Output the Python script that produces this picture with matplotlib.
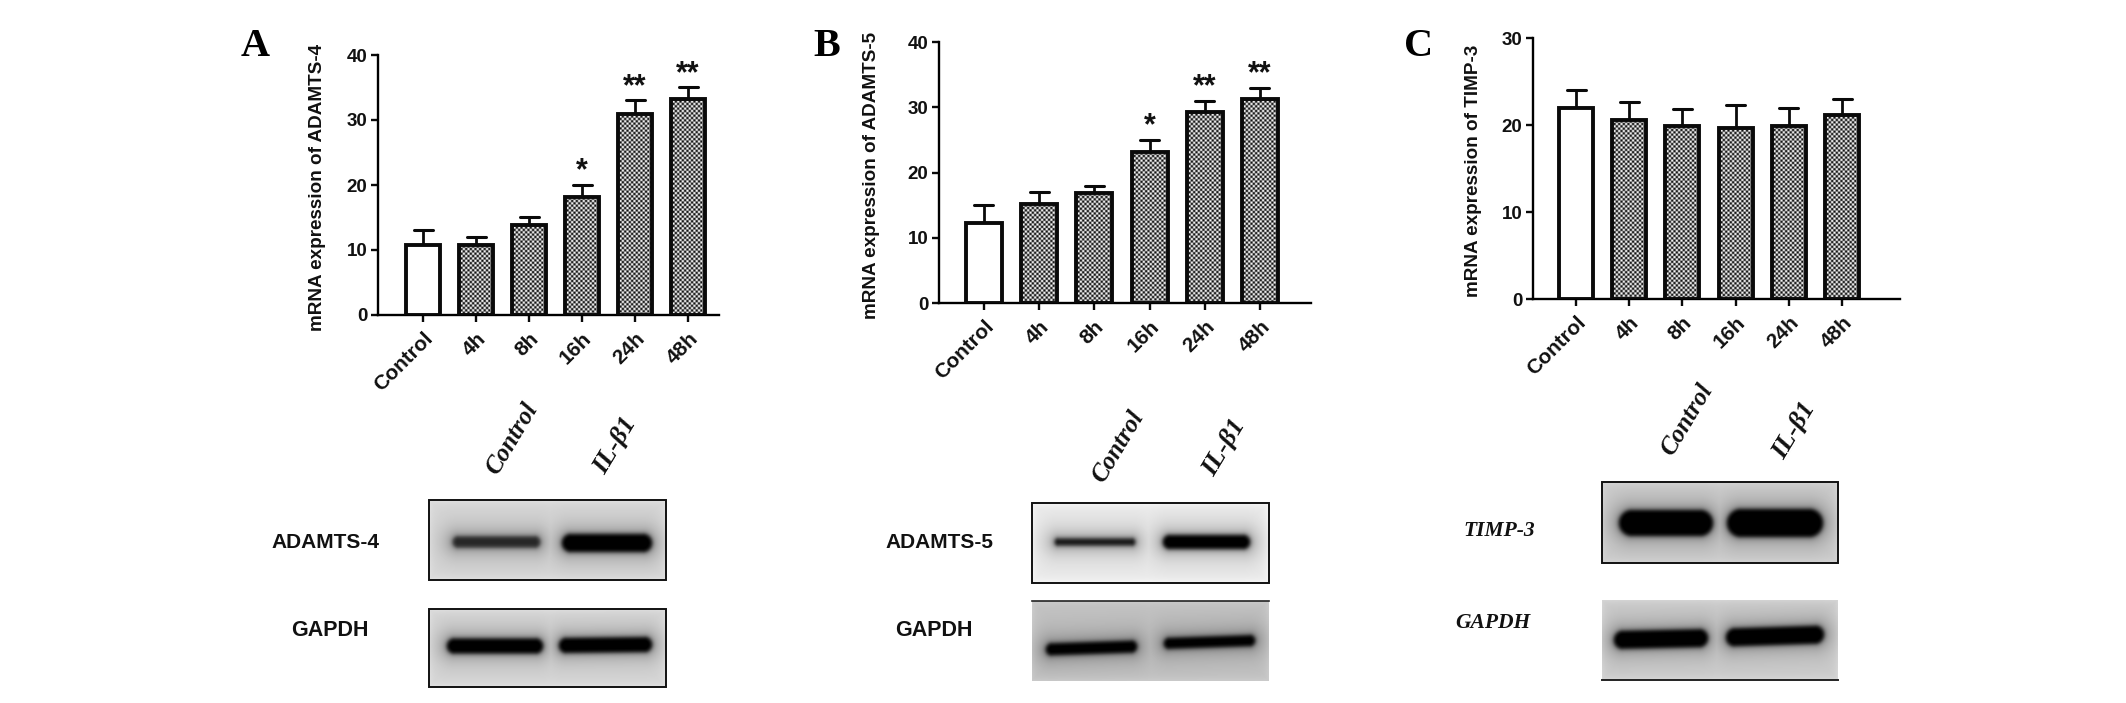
import numpy as np
import matplotlib
matplotlib.use("Agg")
import matplotlib.pyplot as plt
from matplotlib.patches import Rectangle
from matplotlib.transforms import ScaledTranslation

W, H = 2126, 703
DPI = 100
plt.rcParams['font.family'] = ['Liberation Sans', 'DejaVu Sans']

categories = ['Control', '4h', '8h', '16h', '24h', '48h']

adamts4_values = [10.8, 10.8, 13.8, 18.2, 30.9, 33.2]
adamts4_tops = [13.0, 12.0, 15.0, 20.0, 33.0, 35.0]
adamts4_stars = ['', '', '', '*', '**', '**']

adamts5_values = [12.2, 15.2, 16.9, 23.2, 29.2, 31.2]
adamts5_tops = [15.0, 17.0, 18.0, 25.0, 31.0, 33.0]
adamts5_stars = ['', '', '', '*', '**', '**']

timp3_values = [21.9, 20.6, 19.9, 19.6, 19.9, 21.1]
timp3_tops = [24.0, 22.6, 21.8, 22.3, 22.0, 23.0]
timp3_stars = ['', '', '', '', '', '']

fig = plt.figure(figsize=(W / DPI, H / DPI), dpi=DPI, facecolor='white')


def axes_px(x0, y0, x1, y1, **kw):
    return fig.add_axes([x0 / W, 1 - y1 / H, (x1 - x0) / W, (y1 - y0) / H], **kw)


over = axes_px(0, 0, W, H, zorder=10)
over.set_axis_off()
over.patch.set_alpha(0)
over.set_xlim(0, W)
over.set_ylim(H, 0)


def checker(width_px, height_px, cell=2.35):
    """Fine two-tone screen used as the bar fill."""
    ny, nx = max(int(height_px * 2), 2), max(int(width_px * 2), 2)
    xx, yy = np.meshgrid(np.linspace(0, width_px, nx), np.linspace(0, height_px, ny))
    v = np.cos(np.pi * xx / cell) * np.cos(np.pi * yy / cell)
    return np.clip(0.5 + 1.0 * v, 0.05, 1.0)


def bar_panel(spine_x, y_top, y_zero, right, first, step, bar_w, ymax, yticks,
              values, tops, stars, ylabel, label_x, label_y):
    ax = axes_px(spine_x, y_top, right, y_zero)
    ax.patch.set_alpha(0)
    xpos = [first + i * step for i in range(len(categories))]
    px_per_unit = (y_zero - y_top) / ymax
    for i, (x, v, e) in enumerate(zip(xpos, values, tops)):
        ax.plot([x, x], [v, e], color='#0a0a0a', lw=2.0, solid_capstyle='butt', zorder=2)
        ax.plot([x - 9.5, x + 9.5], [e, e], color='#0a0a0a', lw=2.2, solid_capstyle='round', zorder=2)
        if i == 0:
            ax.bar(x, v, bar_w, facecolor='white', edgecolor='#0a0a0a', lw=2.8, zorder=3)
        else:
            ax.imshow(checker(bar_w, v * px_per_unit), cmap='gray', vmin=0, vmax=1, aspect='auto',
                      extent=(x - bar_w / 2, x + bar_w / 2, 0, v), zorder=3,
                      interpolation='bilinear')
            ax.bar(x, v, bar_w, facecolor='none', edgecolor='#0a0a0a', lw=2.8, zorder=4)
        if stars[i]:
            ax.annotate(stars[i], (x, e), xytext=(0, 4), textcoords='offset points',
                        ha='center', va='baseline', fontsize=22, fontweight='bold',
                        color='#111111', zorder=5)
    ax.set_xlim(spine_x, right)
    ax.set_ylim(0, ymax)
    for s in ('top', 'right'):
        ax.spines[s].set_visible(False)
    for s in ('left', 'bottom'):
        ax.spines[s].set_linewidth(1.7)
    ax.set_xticks(xpos)
    ax.set_xticklabels(categories, rotation=45, ha='right', rotation_mode='anchor',
                       fontsize=15, fontweight='bold', color='#111111')
    shift = ScaledTranslation(-2.5 / DPI, 0, fig.dpi_scale_trans)
    for lab in ax.get_xticklabels():
        lab.set_transform(lab.get_transform() + shift)
    ax.set_yticks(yticks)
    ax.set_yticklabels([str(t) for t in yticks], fontsize=13.5, fontweight='bold', color='#111111')
    ax.tick_params(axis='both', width=1.7, length=5, pad=2.5, color='#0a0a0a')
    ax.tick_params(axis='x', pad=5)
    fig.text(label_x / W, 1 - label_y / H, ylabel, rotation=90, ha='center',
             va='center', fontsize=13.6, fontweight='bold', color='#111111')


bar_panel(378, 55, 315, 719, 423, 53, 34, 40, [0, 10, 20, 30, 40],
          adamts4_values, adamts4_tops, adamts4_stars, 'mRNA expression of ADAMTS-4', 317, 187)
bar_panel(939, 42, 303, 1311, 984, 55.2, 36, 40, [0, 10, 20, 30, 40],
          adamts5_values, adamts5_tops, adamts5_stars, 'mRNA expression of ADAMTS-5', 872, 175)
bar_panel(1533, 38, 299, 1900, 1576, 53.2, 34, 30, [0, 10, 20, 30],
          timp3_values, timp3_tops, timp3_stars, 'mRNA expression of TIMP-3', 1473, 171)


def blot(x0, y0, x1, y1, bg, bands, frame):
    """bands: (left, right, y-centre, height, darkness, tilt) in pixels."""
    ax = axes_px(x0, y0, x1, y1)
    ax.set_axis_off()
    nx, ny = int(x1 - x0), int(y1 - y0)
    xx, yy = np.meshgrid(np.arange(nx) + x0 + 0.5, np.arange(ny) + y0 + 0.5)
    ink = np.zeros(xx.shape)
    glow = np.zeros(xx.shape)
    for bx0, bx1, cy, hgt, dark, tilt in bands:
        r = hgt / 2
        centre = cy + tilt * ((xx - bx0) / (bx1 - bx0) - 0.5)
        dx = np.maximum(np.maximum(bx0 + r - xx, xx - bx1 + r), 0)
        d = np.hypot(dx, yy - centre) - r
        ink = np.maximum(ink, dark * 0.5 * (1 - np.tanh(d / 2.6)))
        glow = np.maximum(glow, 0.30 * np.exp(-np.maximum(d, 0) / 10))
    # slightly lighter edge so the film looks like a scan
    ex = np.minimum(np.minimum(xx - x0, x1 - xx), np.minimum(yy - y0, y1 - yy))
    edge = 1 + 0.06 * np.exp(-ex / 4)
    img = np.clip(bg * edge * (1 - glow), 0, 1) * (1 - np.clip(ink * 1.05, 0, 1))
    ax.imshow(img, cmap='gray', vmin=0, vmax=1, aspect='auto', interpolation='bilinear',
              extent=(x0, x1, y1, y0))
    ax.set_xlim(x0, x1)
    ax.set_ylim(y1, y0)
    if frame == 'box':
        over.add_patch(Rectangle((x0, y0), x1 - x0, y1 - y0, fill=False, ec='#111111', lw=1.4))
    elif frame == 'top':
        over.plot([x0, x1], [y0, y0], color='#222222', lw=1.2)
    elif frame == 'bottom':
        over.plot([x0, x1], [y1, y1], color='#222222', lw=1.4)


blot(429, 500, 666, 580, 0.84, [(453, 540, 542, 11, 0.72, 0), (562, 652, 543, 18, 1.0, 0)], 'box')
blot(429, 609, 666, 687, 0.84, [(447, 543, 646, 15, 1.0, 0), (559, 652, 645, 15, 1.0, -1)], 'box')
blot(1032, 503, 1269, 583, 0.92, [(1055, 1135, 542, 7, 0.85, 0), (1163, 1250, 542, 14, 1.0, 0)], 'box')
blot(1032, 601, 1269, 681, 0.76, [(1046, 1137, 648, 12, 1.0, -3), (1164, 1255, 642, 11, 1.0, -3)], 'top')
blot(1602, 482, 1838, 563, 0.80, [(1619, 1713, 523, 26, 1.0, 0), (1727, 1823, 523, 28, 1.0, 0)], 'box')
blot(1602, 600, 1838, 680, 0.80, [(1614, 1708, 639, 18, 1.0, -2), (1726, 1824, 636, 18, 1.0, -3)], 'bottom')

serif = 'Liberation Serif'


def t(x, y, s, **kw):
    fig.text(x / W, 1 - y / H, s, **kw)


# panel letters
for cx, cy, s in [(255, 47, 'A'), (827, 47, 'B'), (1419, 47, 'C')]:
    t(cx, cy, s, family=serif, fontweight='bold', fontsize=29, ha='center', va='center', color='black')

# lane labels
for cx, cy, s, size in [(512, 439, 'Control', 18), (615, 446, 'IL-β1', 19),
                        (1118, 447, 'Control', 18), (1224, 448, 'IL-β1', 19),
                        (1687, 420, 'Control', 18), (1794, 431, 'IL-β1', 19)]:
    t(cx, cy, s, family=serif, fontweight='bold', style='italic', fontsize=size, rotation=59,
      ha='center', va='center', color='#111111')

# blot labels
for cx, cy, s, size in [(325, 542, 'ADAMTS-4', 15), (330, 631, 'GAPDH', 15.5),
                        (939, 542, 'ADAMTS-5', 15), (934, 630.5, 'GAPDH', 15.5)]:
    t(cx, cy, s, fontweight='bold', fontsize=size, ha='center', va='center', color='#111111')
for cx, cy, s in [(1499, 531, 'TIMP-3'), (1493, 623, 'GAPDH')]:
    t(cx, cy, s, family=serif, fontweight='bold', style='italic', fontsize=15.5,
      ha='center', va='center', color='#111111')

fig.savefig('out.png', dpi=DPI, facecolor='white')
